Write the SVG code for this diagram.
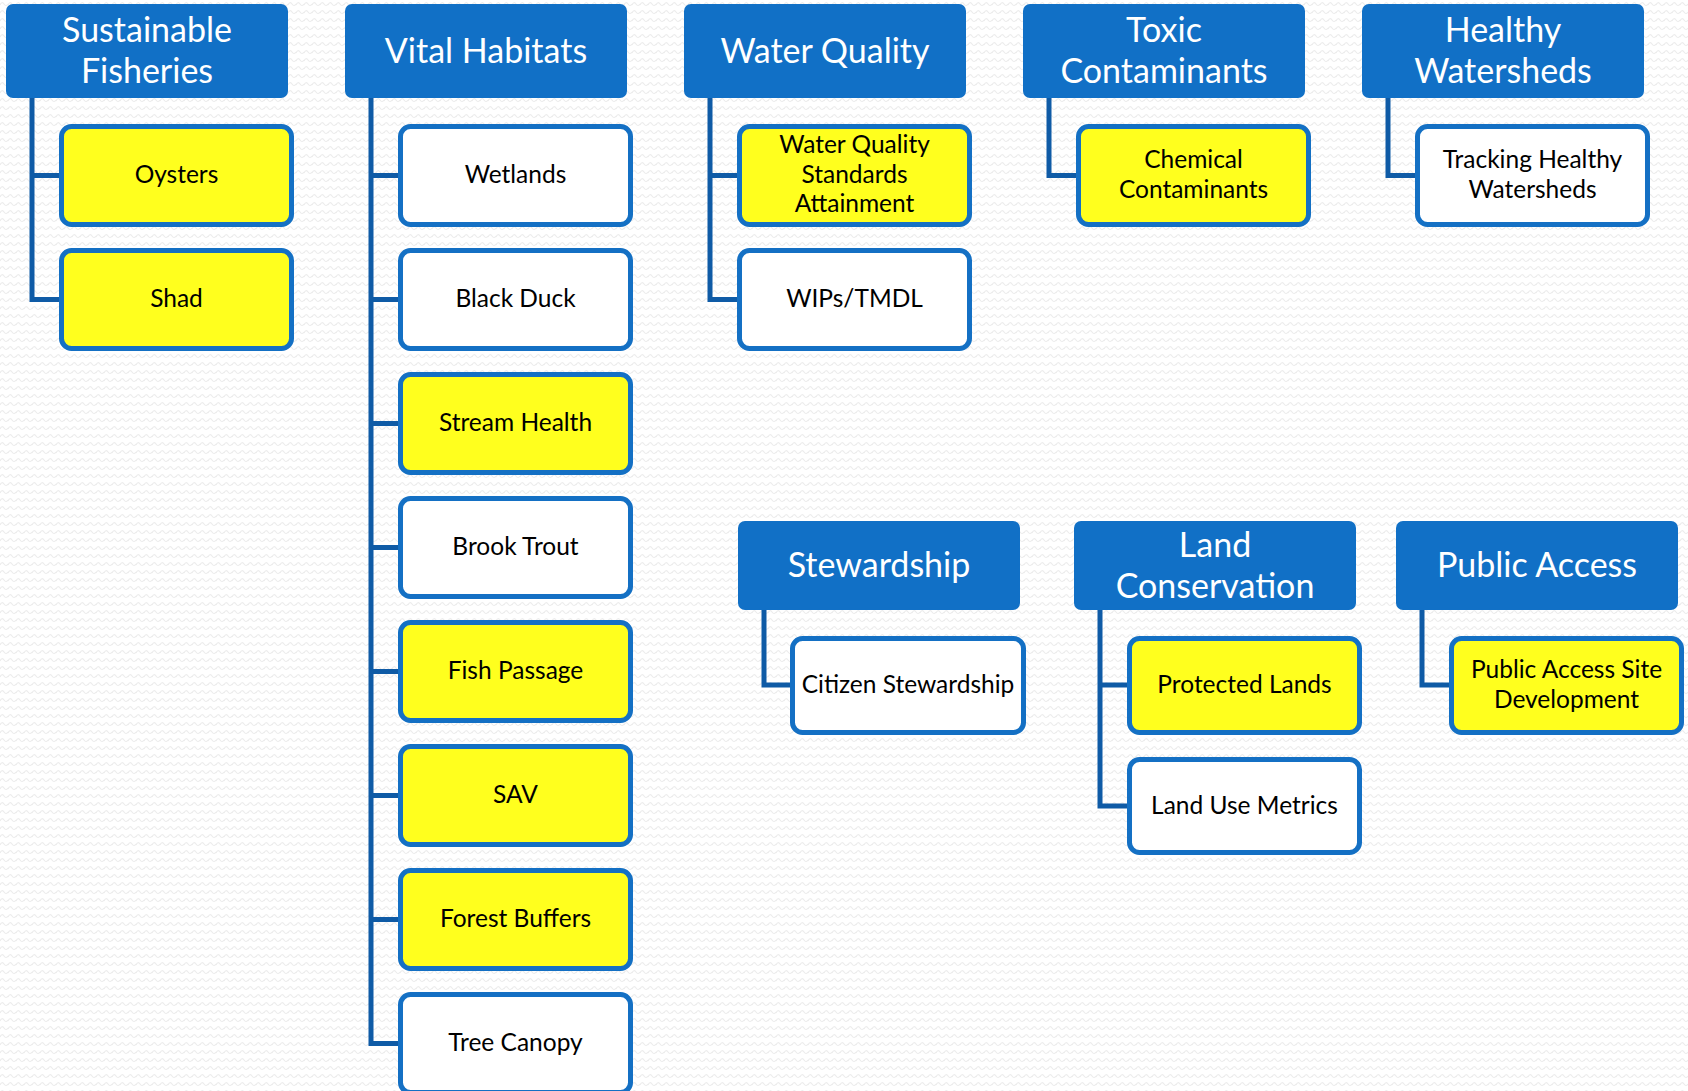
<svg xmlns="http://www.w3.org/2000/svg" width="1688" height="1091" viewBox="0 0 1688 1091">
<defs>
<pattern id="bgp" width="8" height="8" patternUnits="userSpaceOnUse">
<path d="M0 5 Q2 1 4 4 T8 4" fill="none" stroke="#ececec" stroke-width="1.2"/>
</pattern>
<style>
.hd{fill:#1170c6;}
.ht{font-family:Lato,"Liberation Sans",sans-serif;font-size:34px;fill:#ffffff;text-anchor:middle;}
.cw{fill:#ffffff;stroke:#1470c4;stroke-width:5;}
.cy{fill:#ffff1e;stroke:#1470c4;stroke-width:5;}
.ct{font-family:Lato,"Liberation Sans",sans-serif;font-size:24.5px;fill:#000000;text-anchor:middle;}
.cn{fill:none;stroke:#0f5ba6;stroke-width:5;}
</style>
</defs>
<rect x="0" y="0" width="1688" height="1091" fill="#ffffff"/>
<rect x="0" y="0" width="1688" height="1091" fill="url(#bgp)"/>

<g id="connectors">
<path class="cn" d="M32 98 V299.5 H62 M32 175.5 H62"/>
<path class="cn" d="M371 98 V1043.5 H401 M371 175.5 H401 M371 299.5 H401 M371 423.5 H401 M371 547.5 H401 M371 671.5 H401 M371 795.5 H401 M371 919.5 H401"/>
<path class="cn" d="M710 98 V299.5 H740 M710 175.5 H740"/>
<path class="cn" d="M1049 98 V175.5 H1079"/>
<path class="cn" d="M1388 98 V175.5 H1418"/>
<path class="cn" d="M764 610 V685 H793"/>
<path class="cn" d="M1100 610 V806 H1130 M1100 685 H1130"/>
<path class="cn" d="M1422 610 V685 H1452"/>
</g>

<g id="h-sustainable-fisheries"><rect class="hd" x="6" y="4" width="282" height="94" rx="7"/><text class="ht" x="147" y="42">Sustainable</text><text class="ht" x="147" y="83">Fisheries</text></g>
<g id="h-vital-habitats"><rect class="hd" x="345" y="4" width="282" height="94" rx="7"/><text class="ht" x="486" y="63">Vital Habitats</text></g>
<g id="h-water-quality"><rect class="hd" x="684" y="4" width="282" height="94" rx="7"/><text class="ht" x="825" y="63">Water Quality</text></g>
<g id="h-toxic-contaminants"><rect class="hd" x="1023" y="4" width="282" height="94" rx="7"/><text class="ht" x="1164" y="42">Toxic</text><text class="ht" x="1164" y="83">Contaminants</text></g>
<g id="h-healthy-watersheds"><rect class="hd" x="1362" y="4" width="282" height="94" rx="7"/><text class="ht" x="1503" y="42">Healthy</text><text class="ht" x="1503" y="83">Watersheds</text></g>
<g id="h-stewardship"><rect class="hd" x="738" y="521" width="282" height="89" rx="7"/><text class="ht" x="879" y="577">Stewardship</text></g>
<g id="h-land-conservation"><rect class="hd" x="1074" y="521" width="282" height="89" rx="7"/><text class="ht" x="1215" y="557">Land</text><text class="ht" x="1215" y="598">Conservation</text></g>
<g id="h-public-access"><rect class="hd" x="1396" y="521" width="282" height="89" rx="7"/><text class="ht" x="1537" y="577">Public Access</text></g>

<g id="n-oysters"><rect class="cy" x="61.5" y="126.5" width="230" height="98" rx="10"/><text class="ct" x="176.5" y="183">Oysters</text></g>
<g id="n-shad"><rect class="cy" x="61.5" y="250.5" width="230" height="98" rx="10"/><text class="ct" x="176.5" y="307">Shad</text></g>

<g id="n-wetlands"><rect class="cw" x="400.5" y="126.5" width="230" height="98" rx="10"/><text class="ct" x="515.5" y="183">Wetlands</text></g>
<g id="n-black-duck"><rect class="cw" x="400.5" y="250.5" width="230" height="98" rx="10"/><text class="ct" x="515.5" y="307">Black Duck</text></g>
<g id="n-stream-health"><rect class="cy" x="400.5" y="374.5" width="230" height="98" rx="10"/><text class="ct" x="515.5" y="431">Stream Health</text></g>
<g id="n-brook-trout"><rect class="cw" x="400.5" y="498.5" width="230" height="98" rx="10"/><text class="ct" x="515.5" y="555">Brook Trout</text></g>
<g id="n-fish-passage"><rect class="cy" x="400.5" y="622.5" width="230" height="98" rx="10"/><text class="ct" x="515.5" y="679">Fish Passage</text></g>
<g id="n-sav"><rect class="cy" x="400.5" y="746.5" width="230" height="98" rx="10"/><text class="ct" x="515.5" y="803">SAV</text></g>
<g id="n-forest-buffers"><rect class="cy" x="400.5" y="870.5" width="230" height="98" rx="10"/><text class="ct" x="515.5" y="927">Forest Buffers</text></g>
<g id="n-tree-canopy"><rect class="cw" x="400.5" y="994.5" width="230" height="98" rx="10"/><text class="ct" x="515.5" y="1051">Tree Canopy</text></g>

<g id="n-wq-standards"><rect class="cy" x="739.5" y="126.5" width="230" height="98" rx="10"/><text class="ct" x="854.5" y="153">Water Quality</text><text class="ct" x="854.5" y="182.5">Standards</text><text class="ct" x="854.5" y="212">Attainment</text></g>
<g id="n-wips-tmdl"><rect class="cw" x="739.5" y="250.5" width="230" height="98" rx="10"/><text class="ct" x="854.5" y="307">WIPs/TMDL</text></g>

<g id="n-chemical-contaminants"><rect class="cy" x="1078.5" y="126.5" width="230" height="98" rx="10"/><text class="ct" x="1193.5" y="168">Chemical</text><text class="ct" x="1193.5" y="198">Contaminants</text></g>

<g id="n-tracking-healthy-watersheds"><rect class="cw" x="1417.5" y="126.5" width="230" height="98" rx="10"/><text class="ct" x="1532.5" y="168">Tracking Healthy</text><text class="ct" x="1532.5" y="198">Watersheds</text></g>

<g id="n-citizen-stewardship"><rect class="cw" x="792.5" y="638.5" width="231" height="94" rx="10"/><text class="ct" x="908" y="693">Citizen Stewardship</text></g>

<g id="n-protected-lands"><rect class="cy" x="1129.5" y="638.5" width="230" height="94" rx="10"/><text class="ct" x="1244.5" y="693">Protected Lands</text></g>
<g id="n-land-use-metrics"><rect class="cw" x="1129.5" y="759.5" width="230" height="93" rx="10"/><text class="ct" x="1244.5" y="814">Land Use Metrics</text></g>

<g id="n-public-access-site"><rect class="cy" x="1451.5" y="638.5" width="230" height="94" rx="10"/><text class="ct" x="1566.5" y="678">Public Access Site</text><text class="ct" x="1566.5" y="708">Development</text></g>
</svg>
